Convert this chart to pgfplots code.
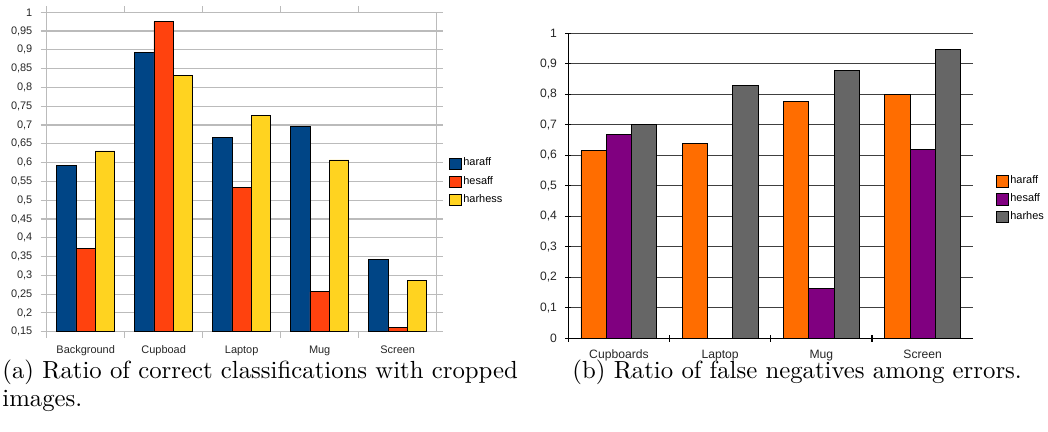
\documentclass[border=0pt]{standalone}
\usepackage{pgfplots}
\pgfplotsset{compat=1.18}
\usepackage{fontspec}
\newfontfamily\chartfont{Liberation Sans}

\definecolor{cblue}{HTML}{004586}
\definecolor{cred}{HTML}{FF420E}
\definecolor{cyellow}{HTML}{FFD320}
\definecolor{corange}{HTML}{FF6D00}
\definecolor{cpurple}{HTML}{800080}
\definecolor{cgray}{HTML}{666666}
\definecolor{lgrid}{HTML}{BBBBBB}

\pgfplotsset{
    chartbase/.style={
        scale only axis,
        anchor=south west,
        ybar=0pt,
        xmin=-0.5,
        tick align=outside,
        /pgf/number format/assume math mode=true,
        /pgf/number format/use comma,
        /pgf/number format/1000 sep={},
        major x tick style={draw=none},
        legend cell align=left,
        area legend,
    },
}

\begin{document}
\begin{tikzpicture}
\path[use as bounding box] (0pt,0pt) rectangle (440.16pt,181.44pt);

% (a) correct classifications, cropped images
\begin{axis}[
    chartbase,
    at={(19.61pt,42.13pt)},
    width=163.8pt,
    height=134.15pt,
    bar width=8.15pt,
    xmax=4.5,
    ymin=0.15, ymax=1,
    ytick={0.15,0.2,0.25,0.3,0.35,0.4,0.45,0.5,0.55,0.6,0.65,0.7,0.75,0.8,0.85,0.9,0.95,1},
    xtick={0,1,2,3,4},
    xticklabels={Background,Cupboad,Laptop,Mug,Screen},
    minor xtick={-0.5,0.5,1.5,2.5,3.5},
    minor tick length=2.5pt,
    major tick length=2.5pt,
    ymajorgrids,
    grid style={lgrid, line width=0.5pt},
    axis line style={lgrid, line width=0.6pt},
    tick style={lgrid, line width=0.5pt},
    ticklabel style={font=\chartfont\fontsize{4.6}{5}\selectfont, text=black!85},
    legend style={
        at={(1.0315,0.550)}, anchor=north west,
        draw=none, fill=none, inner sep=0pt,
        font=\chartfont\fontsize{4.6}{5}\selectfont,
        row sep=1.6pt,
        nodes={inner sep=0.6pt},
    },
    legend image code/.code={\draw[#1,draw=black,line width=0.35pt] (0pt,-2.4pt) rectangle (4.9pt,2.4pt);},
]
\addplot[fill=cblue, draw=black, line width=0.35pt, bar shift=-8.15pt] coordinates {
    (0,0.592) (1,0.892) (2,0.667) (3,0.696) (4,0.341)
};
\addplot[fill=cred, draw=black, line width=0.35pt, bar shift=0pt] coordinates {
    (0,0.372) (1,0.975) (2,0.535) (3,0.256) (4,0.162)
};
\addplot[fill=cyellow, draw=black, line width=0.35pt, bar shift=8.15pt] coordinates {
    (0,0.631) (1,0.833) (2,0.726) (3,0.607) (4,0.286)
};
\legend{haraff,hesaff,harhess}
\end{axis}

% (b) false negatives among errors
\begin{axis}[
    chartbase,
    at={(238.69pt,39.35pt)},
    width=170.1pt,
    height=128.1pt,
    bar width=10.63pt,
    xmax=3.5,
    ymin=0, ymax=1,
    ytick={0,0.1,0.2,0.3,0.4,0.5,0.6,0.7,0.8,0.9,1},
    xtick={0,1,2,3},
    xticklabels={Cupboards,Laptop,Mug,Screen},
    minor xtick={-0.5,0.5,1.5,2.5},
    minor tick length=2.8pt,
    major tick length=2.5pt,
    axis x line=bottom,
    axis y line=left,
    axis line style={-, black, line width=0.5pt},
    ymajorgrids,
    grid style={black!75, line width=0.5pt},
    tick style={black, line width=0.5pt},
    ticklabel style={font=\chartfont\fontsize{5.1}{6}\selectfont, text=black!85},
    legend style={
        at={(1.056,0.539)}, anchor=north west,
        draw=none, fill=none, inner sep=0pt,
        font=\chartfont\fontsize{4.6}{5}\selectfont,
        row sep=1.4pt,
        nodes={inner sep=0.6pt},
    },
    legend image code/.code={\draw[#1,draw=black,line width=0.35pt] (0pt,-2.4pt) rectangle (4.9pt,2.4pt);},
]
\addplot[fill=corange, draw=black, line width=0.35pt, bar shift=-10.63pt] coordinates {
    (0,0.615) (1,0.639) (2,0.778) (3,0.800)
};
\addplot[fill=cpurple, draw=black, line width=0.35pt, bar shift=0pt] coordinates {
    (0,0.667) (1,0) (2,0.163) (3,0.620)
};
\addplot[fill=cgray, draw=black, line width=0.35pt, bar shift=10.63pt] coordinates {
    (0,0.700) (1,0.830) (2,0.879) (3,0.946)
};
\legend{haraff,hesaff,harhes}
\end{axis}

\node[anchor=base west, inner sep=0pt, font=\fontsize{10.4}{12}\selectfont] at (0.84pt,22.26pt) {(a) Ratio of correct classifications with cropped};
\node[anchor=base west, inner sep=0pt, font=\fontsize{10.4}{12}\selectfont] at (0.84pt,10.6pt) {images.};
\node[anchor=base west, inner sep=0pt, font=\fontsize{10.4}{12}\selectfont] at (240.24pt,22.26pt) {(b) Ratio of false negatives among errors.};
\end{tikzpicture}
\end{document}
